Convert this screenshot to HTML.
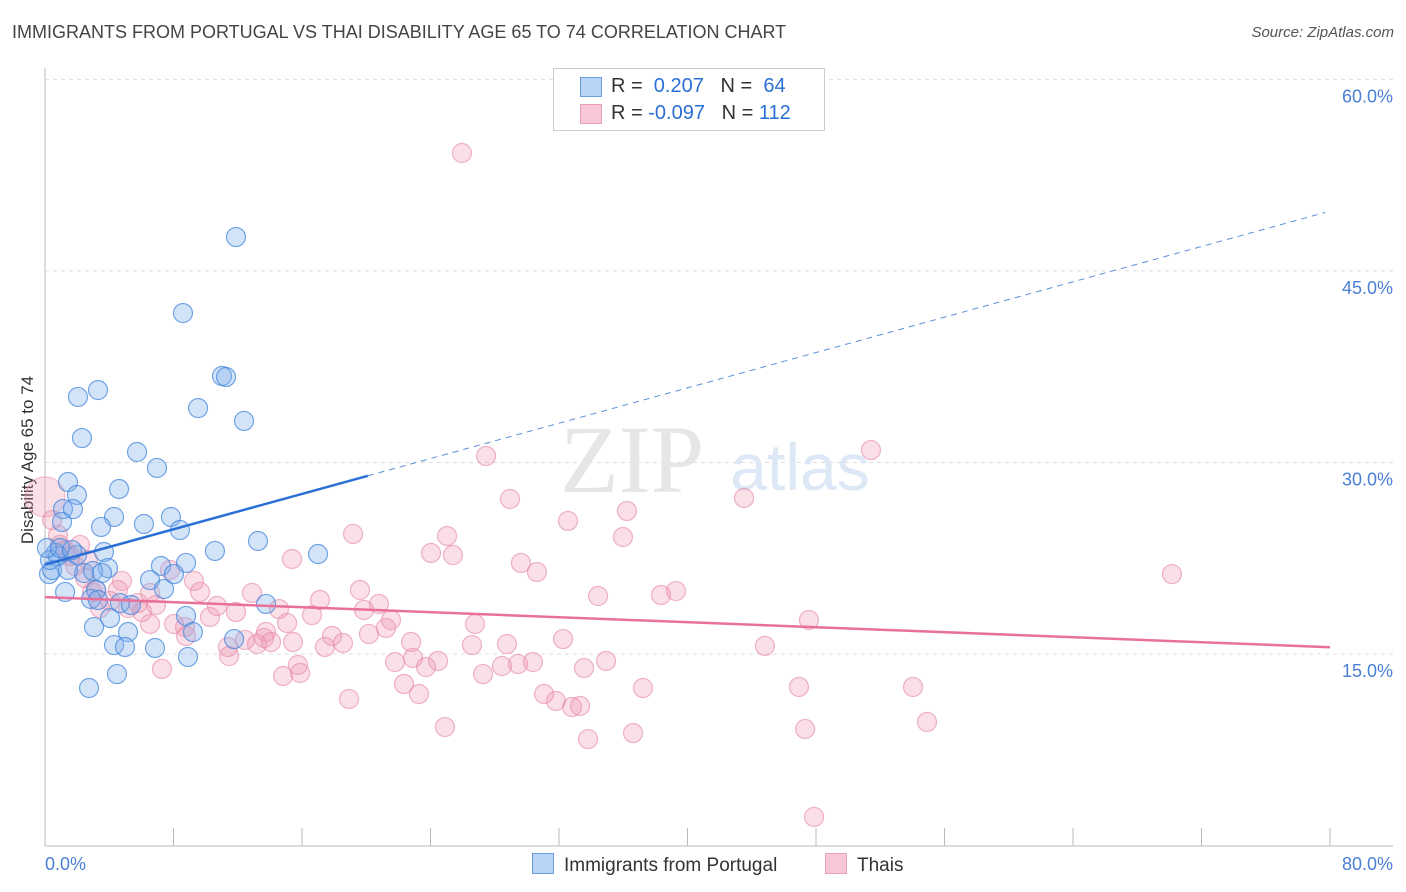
<!DOCTYPE html>
<html><head><meta charset="utf-8"><style>
body{margin:0;background:#fff;font-family:"Liberation Sans",sans-serif;}
#wrap{position:relative;width:1406px;height:892px;overflow:hidden;}
.t{position:absolute;white-space:nowrap;}
</style></head><body>
<div id="wrap">
<div class="t" style="left:12px;top:22px;font-size:18px;color:#444;">IMMIGRANTS FROM PORTUGAL VS THAI DISABILITY AGE 65 TO 74 CORRELATION CHART</div>
<div class="t" style="right:12px;top:24px;font-size:15px;color:#555;font-style:italic;">Source: ZipAtlas.com</div>
<div class="t" style="left:-62px;top:450px;font-size:17px;color:#333;transform:rotate(-90deg);transform-origin:center;width:180px;text-align:center;">Disability Age 65 to 74</div>
<svg id="svg" width="1406" height="892" style="position:absolute;left:0;top:0"></svg>
</div>
<script>
const yTicks=[15,30,45,60];
const yTickLabels=["15.0%","30.0%","45.0%","60.0%"];
const xTickLabels=["0.0%","80.0%"];
const blueX=[];const blueY=[];const pinkX=[];const pinkY=[];
const bluePx=[[236,237],[183,313],[98,390],[78,397],[222,376],[226,377],[198,408],[244,421],[82,438],[137,452],[157,468],[68,482],[119,489],[77,495],[63,509],[73,509],[62,522],[114,517],[144,524],[171,517],[180,530],[101,527],[215,551],[258,541],[318,554],[56,553],[58,556],[104,552],[77,555],[108,568],[161,566],[186,563],[174,574],[150,580],[84,573],[93,571],[102,573],[49,574],[52,570],[68,570],[164,589],[96,590],[65,592],[120,603],[91,599],[266,604],[110,618],[186,616],[193,632],[234,639],[94,627],[128,632],[155,648],[114,645],[125,647],[188,657],[117,674],[89,688],[50,560],[47,548],[60,548],[72,550],[131,605],[98,600]];
const pinkPx=[[462,153],[871,450],[486,456],[510,499],[744,498],[627,511],[568,521],[353,534],[447,536],[623,537],[431,553],[453,555],[292,559],[521,563],[537,572],[1172,574],[122,581],[194,581],[360,590],[252,593],[598,596],[676,591],[661,595],[320,600],[379,604],[156,605],[200,592],[217,606],[236,612],[364,610],[391,620],[475,624],[809,620],[279,609],[312,615],[174,624],[185,627],[150,624],[210,617],[266,632],[287,623],[293,642],[332,636],[245,640],[264,638],[271,642],[343,643],[369,634],[386,628],[411,642],[472,645],[507,644],[563,639],[765,646],[186,636],[228,647],[257,644],[325,647],[229,656],[395,662],[413,658],[438,661],[426,667],[502,666],[518,664],[533,662],[584,668],[606,661],[298,665],[283,676],[300,673],[404,684],[483,674],[419,694],[349,699],[544,694],[556,701],[572,707],[580,706],[643,688],[799,687],[913,687],[927,722],[445,727],[633,733],[588,739],[805,729],[814,817],[162,669],[96,590],[75,566],[65,550],[58,535],[52,520],[80,545],[88,560],[110,601],[100,608],[128,608],[138,603],[118,590],[85,578],[70,556],[60,545],[92,592],[150,593],[142,612],[170,570]];
bluePx.forEach(p=>{blueX.push(+((p[0]-45)*80/1285).toFixed(2));blueY.push(+(15+(654-p[1])/12.77).toFixed(2));});
pinkPx.forEach(p=>{pinkX.push(+((p[0]-45)*80/1285).toFixed(2));pinkY.push(+(15+(654-p[1])/12.77).toFixed(2));});
const blueFit=[22.0,0.346];const pinkFit=[19.45,-0.049];

const NS="http://www.w3.org/2000/svg";const svg=document.getElementById('svg');
const X=v=>45+v*1285/80;const Y=v=>654-(v-15)*12.77;
function mk(t,a){const e=document.createElementNS(NS,t);for(const k in a)e.setAttribute(k,a[k]);svg.appendChild(e);return e;}
yTicks.forEach((v,i)=>{
 const g=mk('line',{x1:45,x2:1393,y1:Y(v),y2:Y(v),stroke:'#ddd','stroke-dasharray':'4,4'});
 
 
 const t=mk('text',{x:1393,y:Y(v)+23,'text-anchor':'end','font-size':18,fill:'#4a7fd6'});t.textContent=yTickLabels[i];
 
 
});
const ax=mk('line',{x1:45,x2:45,y1:68,y2:846,stroke:'#bbb'});


const bx=mk('line',{x1:45,x2:1393,y1:846,y2:846,stroke:'#bbb'});


for(let i=0;i<=10;i++){const l=mk('line',{x1:45+i*128.5,x2:45+i*128.5,y1:828,y2:846,stroke:'#bbb'});
 
 }
[[45,'start',0],[1393,'end',1]].forEach(a=>{const t=mk('text',{x:a[0],y:870,'text-anchor':a[1],'font-size':18,fill:'#4a7fd6'});t.textContent=xTickLabels[a[2]];
 
 });
const w1=mk('text',{x:632,y:492,'text-anchor':'middle','font-size':96,fill:'#e6e6e6','font-family':'Liberation Serif'});w1.textContent='ZIP';


const w2=mk('text',{x:800,y:490,'text-anchor':'middle','font-size':66,fill:'#dde8f6'});w2.textContent='atlas';


const bigp=mk('circle',{cx:X(0),cy:Y(27.3),r:20,fill:'rgba(240,150,175,0.3)',stroke:'rgba(230,140,170,0.6)'});


pinkX.forEach((v,i)=>{const c=mk('circle',{cx:X(v),cy:Y(pinkY[i]),r:9.5,fill:'rgba(240,150,175,0.3)',stroke:'rgba(230,140,170,0.65)','stroke-width':1.2});
 
 });
blueX.forEach((v,i)=>{const c=mk('circle',{cx:X(v),cy:Y(blueY[i]),r:9.5,fill:'rgba(130,175,235,0.35)',stroke:'rgba(60,130,220,0.7)','stroke-width':1.2});
 
 });
const f=(fit,x)=>fit[0]+fit[1]*x;
const bl=mk('line',{x1:X(0),y1:Y(f(blueFit,0)),x2:X(20.1),y2:Y(f(blueFit,20.1)),stroke:'#2a6fd6','stroke-width':2.5});


const bd=mk('line',{x1:X(20.1),y1:Y(f(blueFit,20.1)),x2:X(79.7),y2:Y(f(blueFit,79.7)),stroke:'#5b8fd8','stroke-width':1,'stroke-dasharray':'6,5'});


const pl=mk('line',{x1:X(0),y1:Y(f(pinkFit,0)),x2:X(80),y2:Y(f(pinkFit,80)),stroke:'#e8709a','stroke-width':2.5});


</script>
<div class="t" style="left:553px;top:68px;width:270px;height:61px;border:1px solid #ccc;background:#fff;font-size:20px;color:#333;">
 <div style="position:absolute;left:26px;top:8px;width:20px;height:18px;background:#b8d3f4;border:1px solid #6a9de0;"></div>
 <div style="position:absolute;left:57px;top:6px;">R = <span style="color:#2a6fd6">&nbsp;0.207</span>&nbsp;&nbsp;&nbsp;N = &nbsp;<span style="color:#2a6fd6">64</span></div>
 <div style="position:absolute;left:26px;top:35px;width:20px;height:18px;background:#f9c6d5;border:1px solid #e8a0b8;"></div>
 <div style="position:absolute;left:57px;top:33px;">R = <span style="color:#2a6fd6">-0.097</span>&nbsp;&nbsp;&nbsp;N = <span style="color:#2a6fd6">112</span></div>
</div>
<div class="t" style="left:532px;top:853px;font-size:19px;color:#333;"><span style="display:inline-block;width:20px;height:19px;background:#b8d3f4;border:1px solid #6a9de0;vertical-align:-3px;margin-right:10px;"></span>Immigrants from Portugal</div>
<div class="t" style="left:825px;top:853px;font-size:19px;color:#333;"><span style="display:inline-block;width:20px;height:19px;background:#f9c6d5;border:1px solid #e8a0b8;vertical-align:-3px;margin-right:10px;"></span>Thais</div>
</body></html>
